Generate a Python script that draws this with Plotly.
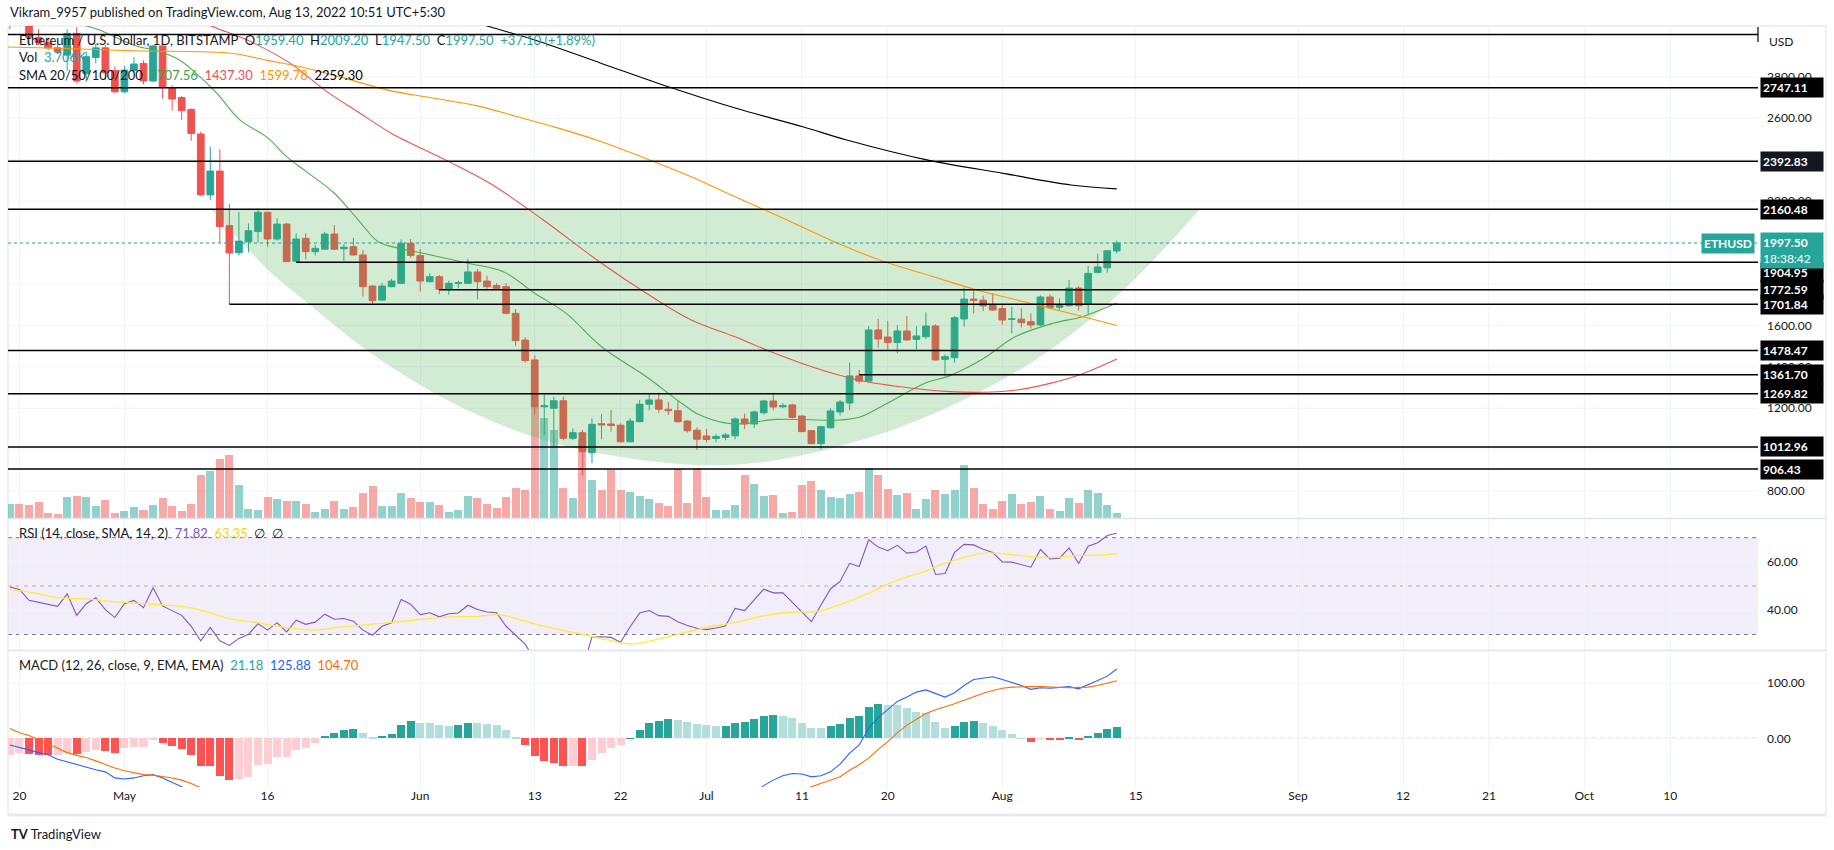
import plotly.graph_objects as go

# ---------------- layout helpers (pixels of the 1834x850 page) ----------------
FIG_W, FIG_H = 1834, 850
PL, PR, PT, PB = 8, 1758, 26, 787


def px(x):
    return (x - PL) / (PR - PL)


def py(y):
    return (PB - y) / (PB - PT)


# ---------------- data (day index 0 = 2022-04-20) ----------------
days = list(range(-1, 116))

opens = [3062, 3104, 3077, 2990, 2966, 2940, 2905, 3010, 2815, 2894, 2940, 2830, 2728, 2830, 2865, 2780,
         2949, 2748, 2700, 2643, 2524, 2230, 2345, 2082, 1951, 2004, 2053, 2146, 2017, 2089, 1910, 2020,
         1956, 1968, 2041, 1970, 1980, 1940, 1790, 1722, 1787, 1803, 1996, 1937, 1811, 1835, 1774, 1803,
         1803, 1858, 1814, 1792, 1787, 1658, 1529, 1433, 1207, 1200, 1236, 1055, 1082, 985, 1125, 1124,
         1118, 1038, 1135, 1219, 1240, 1195, 1188, 1138, 1094, 1066, 1054, 1059, 1067, 1148, 1124, 1178,
         1235, 1207, 1216, 1162, 1092, 1029, 1106, 1182, 1225, 1356, 1331, 1578, 1544, 1517, 1573, 1532,
         1545, 1597, 1436, 1444, 1631, 1727, 1722, 1698, 1681, 1630, 1630, 1618, 1602, 1737, 1687, 1695,
         1780, 1702, 1855, 1878, 1959.40]
highs = [3130, 3171, 3190, 3030, 2990, 2962, 3030, 3040, 2922, 2960, 2954, 2850, 2853, 2895, 2880, 2954,
         2962, 2760, 2707, 2648, 2535, 2463, 2450, 2186, 2146, 2092, 2165, 2150, 2117, 2095, 2044, 2044,
         1988, 2052, 2085, 1993, 2023, 1964, 1795, 1806, 1825, 2015, 2017, 1969, 1851, 1843, 1816, 1816,
         1922, 1871, 1840, 1803, 1803, 1679, 1542, 1455, 1267, 1255, 1256, 1103, 1095, 1151, 1172, 1191,
         1127, 1151, 1240, 1269, 1275, 1232, 1236, 1143, 1107, 1100, 1075, 1080, 1155, 1175, 1190, 1240,
         1275, 1225, 1222, 1167, 1094, 1115, 1200, 1240, 1421, 1385, 1597, 1631, 1621, 1602, 1645, 1597,
         1663, 1605, 1460, 1645, 1782, 1768, 1744, 1755, 1702, 1690, 1682, 1658, 1745, 1750, 1730, 1819,
         1790, 1887, 1945, 1964, 2009.20]
lows = [3030, 3046, 2950, 2955, 2930, 2910, 2830, 2770, 2777, 2865, 2785, 2722, 2722, 2820, 2764, 2776,
        2695, 2637, 2592, 2492, 2226, 2205, 1998, 1701.84, 1937, 1952, 2001, 1980, 2009, 1905, 1905, 1919,
        1937, 1964, 1964, 1912, 1937, 1739, 1698, 1719, 1784, 1800, 1927, 1763, 1808, 1751, 1747, 1779,
        1800, 1726, 1768, 1771, 1653, 1500, 1420, 1170, 1070, 1010, 1046, 1046, 877, 934, 1050, 1087,
        1035, 1035, 1132, 1191, 1178, 1167, 1130, 1083, 998, 1035, 1035, 1045, 1050, 1100, 1105, 1170,
        1190, 1200, 1150, 1085, 1027, 1002, 1100, 1165, 1190, 1320, 1325, 1492, 1478, 1465, 1525, 1485,
        1535, 1430, 1355, 1420, 1594, 1658, 1670, 1670, 1602, 1562, 1590, 1585, 1597, 1685, 1675, 1690,
        1671, 1655, 1850, 1855, 1947.50]
closes = [3104, 3077, 2990, 2966, 2940, 2922, 3010, 2780, 2897, 2940, 2820, 2728, 2833, 2862, 2780, 2949,
          2748, 2693, 2637, 2527, 2230, 2345, 2077, 1950, 2007, 2057, 2146, 2017, 2089, 1908, 2017, 1956,
          1972, 2041, 1968, 1977, 1940, 1787, 1719, 1790, 1814, 1996, 1937, 1814, 1835, 1774, 1803, 1806,
          1858, 1811, 1787, 1779, 1658, 1526, 1430, 1207, 1212, 1236, 1055, 1082, 990, 1122, 1120, 1117,
          1038, 1138, 1219, 1240, 1195, 1188, 1135, 1091, 1050, 1049, 1063, 1071, 1148, 1124, 1182, 1235,
          1206, 1212, 1156, 1087, 1029, 1111, 1187, 1230, 1356, 1331, 1578, 1534, 1517, 1573, 1530, 1549,
          1597, 1433, 1449, 1637, 1727, 1721, 1694, 1674, 1626, 1631, 1613, 1602, 1737, 1686, 1698, 1780,
          1695, 1851, 1882, 1960.40, 1997.50]
volumes_k = [10.6, 10.6, 9.6, 11.8, 3.7, 3.0, 15.5, 16.3, 15.5, 8.9,
             13.3, 3.7, 5.2, 8.1, 5.9, 9.6, 14.8, 8.9, 5.2, 10.4,
             31.8, 34.8, 43.7, 46.6, 24.4, 6.7, 5.9, 15.5, 14.1, 12.6,
             12.6, 10.4, 4.4, 6.7, 12.6, 6.7, 8.1, 18.5, 23.7, 8.9,
             8.9, 18.5, 14.8, 11.8, 11.8, 9.6, 4.4, 5.9, 16.3, 14.8,
             10.4, 7.4, 15.5, 22.2, 20.7, 82.9, 74.0, 65.1, 22.2, 14.8,
             57.7, 28.1, 20.7, 35.5, 20.7, 19.2, 16.3, 14.1, 11.1, 8.9,
             36.3, 11.1, 37.0, 15.5, 5.9, 5.9, 9.6, 31.8, 25.2, 16.3,
             17.0, 3.7, 4.4, 24.4, 27.4, 20.7, 15.5, 14.8, 17.8, 19.2,
             37.0, 31.8, 21.5, 17.0, 18.5, 6.7, 14.1, 20.7, 17.8, 20.7,
             39.2, 22.2, 10.4, 6.7, 12.6, 17.8, 10.4, 11.8, 16.3, 6.7,
             5.2, 14.8, 11.1, 20.7, 18.5, 9.6, 3.706]

sma20_days = [-1.5, 3, 6.7, 8.4, 11.9, 14.7, 16.8, 18.9, 20.7, 23.1, 25.9, 28, 30, 33, 35.5, 37.6, 40,
              42.3, 47, 50.7, 54, 57.3, 61, 65.7, 69.4, 71.3, 74.8, 79.3, 85.9, 88, 90.8, 95, 97.4,
              100.9, 104.4, 108.3, 111.4, 115]
sma20_vals = [3110, 3080, 3050, 3026, 2954, 2922, 2880, 2801, 2720, 2592, 2510, 2415, 2345, 2238, 2110,
              2004, 1970, 1948, 1900, 1859, 1755, 1658, 1497, 1352, 1224, 1167, 1124, 1146, 1143, 1156,
              1220, 1323, 1355, 1436, 1546, 1610, 1642, 1707.56]
sma50_days = [17, 20.3, 24, 28.4, 32, 35.5, 39, 44.7, 49.3, 54.9, 61, 65.7, 70.4, 75, 78.3, 81.8, 85.3,
              88.8, 92.3, 97.5, 101, 104.5, 108, 111.5, 115]
sma50_vals = [3110, 3042, 2975, 2865, 2736, 2630, 2527, 2398, 2286, 2109, 1900, 1755, 1626, 1545, 1481,
              1420, 1368, 1328, 1304, 1280, 1277, 1288, 1320, 1368, 1437.30]
sma100_days = [-2, 5, 12, 19, 22.4, 25.9, 29.4, 34, 38.6, 43, 48, 52, 56.3, 61, 65.7, 70.4, 75, 79.7,
               85.4, 90.6, 95.8, 100.3, 104.5, 108, 111.5, 115]
sma100_vals = [2945, 2937, 2926, 2921, 2913, 2881, 2849, 2795, 2736, 2700, 2660, 2610, 2555, 2487, 2405,
               2318, 2221, 2125, 2004, 1908, 1835, 1771, 1723, 1682, 1642, 1599.78]
sma200_days = [46, 49.3, 54, 61, 68, 75.1, 82.1, 86.7, 95.2, 103.1, 110.2, 115]
sma200_vals = [3090, 3042, 2978, 2865, 2752, 2648, 2559, 2495, 2398, 2334, 2278, 2259.30]

cup_days = [20.1, 22.5, 26, 30, 36.7, 45, 54, 63, 72, 78, 84.4, 92.3, 100.4, 107.7, 115.7, 123.7]
cup_prices = [2160.48, 2040, 1870, 1715, 1470, 1235, 1060, 965, 925, 940, 998, 1109, 1273, 1471, 1771,
              2160.48]

levels = [3005, 2747.11, 2392.83, 2160.48, 1904.95, 1772.59, 1701.84, 1478.47, 1361.70, 1269.82,
          1012.96, 906.43]
level_start = [None, None, None, None, 29, 44, 22, None, 88, None, None, None]
level_labeled = [False, True, True, True, True, True, True, True, True, True, True, True]

rsi_vals = [49.6, 48.6, 44.1, 43.2, 42.2, 41.6, 46.8, 37.9, 42.7, 45.2, 40.3,
            37.0, 42.7, 44.1, 41.1, 49.3, 41.8, 39.7, 37.9, 33.4, 27.4,
            32.9, 27.4, 25.5, 28.4, 30.1, 34.5, 31.8, 34.9, 31.1, 35.9,
            34.2, 35.1, 38.4, 36.3, 36.6, 35.5, 31.8, 29.7, 33.4, 34.8,
            44.5, 42.5, 38.2, 39.0, 37.3, 38.6, 38.9, 42.1, 40.3, 39.3,
            39.0, 33.4, 29.7, 26.0, 19.5, 19.8, 20.5, 16.5, 17.5, 15.5,
            29.0, 29.1, 28.8, 26.8, 33.2, 38.9, 39.9, 37.8, 37.5, 35.3,
            33.7, 32.6, 32.0, 32.7, 33.5, 40.8, 39.9, 44.3, 48.7, 47.2,
            47.2, 43.3, 39.2, 35.3, 42.2, 48.8, 51.9, 59.4, 58.1, 69.1,
            66.1, 64.6, 66.8, 63.6, 64.1, 66.5, 54.8, 55.2, 63.9, 67.2,
            67.0, 65.2, 63.9, 60.0, 59.9, 58.9, 57.8, 65.1, 61.2, 61.5,
            65.8, 59.3, 66.5, 67.9, 70.9, 71.82]
rsi_ma_days = [-1, 1.7, 3.8, 6.8, 10.4, 13.9, 17, 19.1, 22, 24.9, 27.8, 30.9, 33.2, 35.7, 38.6, 41.9, 45.2,
               48.1, 50.1, 51.8, 53.9, 56.8, 59.7, 61, 62, 63.1, 64.2, 65.7, 68.4, 72.1, 75.1, 78.1, 80.7,
               83.7, 86, 89, 90.8, 93.1, 94.6, 96.8, 99.1, 101.3, 103.2, 105.8, 108.8, 110.7, 113.3, 115]
rsi_ma_vals = [48.5, 47.1, 45.2, 44.7, 43.4, 42.5, 41.6, 40.0, 36.6, 34.9, 32.9, 31.8, 32.9, 33.8, 34.8,
               36.2, 37.3, 37.5, 38.2, 36.9, 34.5, 31.8, 29.5, 28.2, 27.5, 26.4, 26.1, 27.0, 29.5, 33.0,
               35.0, 37.8, 39.2, 39.6, 42.3, 47.0, 50.5, 53.9, 55.7, 59.2, 61.9, 63.7, 63.3, 62.2, 61.9,
               62.6, 62.9, 63.35]

macd_hist = [-30, -26, -28, -30, -31, -30, -27, -28, -24, -21, -23,
             -27, -17, -16.5, -16, -3, -8, -14, -19, -30, -50,
             -51, -68, -75, -74, -70, -48, -47, -34, -33.5, -22,
             -18, -8, 4, 9, 15, 17, 9, 3, 4, 8,
             24, 31, 28, 28, 24, 22, 24, 28, 28, 26,
             24, 15, 3, -12, -33, -42, -44, -51, -50, -51,
             -39, -26, -17, -13, 0.5, 15, 28, 32, 35, 33,
             30, 26, 24, 22, 22.5, 28, 30, 35, 41, 42,
             41, 37, 28, 19, 19, 22, 26, 37, 41, 57,
             62, 61, 60.6, 55, 48, 46, 30, 19, 22, 30,
             31.5, 28, 22, 15, 8, 0.3, -6, -1, -3, -3.5,
             2, -2, 4, 10, 17, 21.18]
macd_days_a = list(range(-1, 19))
macd_vals_a = [-12, -16, -21, -26, -30, -38, -43, -47, -52, -57, -61, -72, -74, -72, -68, -66, -72, -80,
               -88, -100]
macd_days_b = list(range(77, 116))
macd_vals_b = [-100, -86, -76, -68, -64, -65, -70, -68, -61, -47, -27, -12, 18, 38, 52, 67, 75, 84, 88,
               82, 75, 83, 96, 107, 110, 112, 107, 102, 96, 89, 92, 91, 92, 94, 90, 97, 105, 113, 125.88]
signal_days_a = list(range(-1, 21))
signal_vals_a = [18, 10, 5, -2, -10, -18, -26, -31, -35, -41, -48, -54, -59, -63, -66, -67, -69, -72,
                 -76, -82, -90, -100]
signal_days_b = list(range(81, 116))
signal_vals_b = [-100, -94, -88, -81, -76, -70, -58, -48, -36, -20, -6, 10, 24, 35, 45, 52, 57, 63, 69,
                 76, 82, 87, 91, 93, 94, 94, 94, 93, 93, 92, 92.5, 93, 96, 100, 104.70]

tick_days = [0, 11, 26, 42, 54, 63, 72, 82, 91, 103, 117, 134, 145, 154, 164, 173]
tick_text = ['20', 'May', '16', 'Jun', '13', '22', 'Jul', '11', '20', 'Aug', '15', 'Sep', '12', '21',
             'Oct', '10']
price_ticks = [800, 1200, 1400, 1600, 2200, 2600, 2800]
price_grid = [800, 1000, 1200, 1400, 1600, 1800, 2000, 2200, 2400, 2600, 2800]

# ---------------- styling ----------------
UP, DOWN = '#26a69a', '#ef5350'
TXT = '#131722'
GRID = '#f0f3fa'
FONT = 'Lato, "Open Sans", sans-serif'

fig = go.Figure()

vol_colors = ['rgba(38,166,154,0.5)' if c >= o else 'rgba(239,83,80,0.5)' for o, c in zip(opens, closes)]
fig.add_trace(go.Bar(x=days, y=volumes_k, width=0.84, marker=dict(color=vol_colors, line=dict(width=0)),
                     xaxis='x', yaxis='y', hoverinfo='skip'))

fig.add_trace(go.Scatter(x=cup_days, y=cup_prices, mode='lines', fill='toself',
                         fillcolor='rgba(76,175,80,0.25)',
                         line=dict(width=0, shape='spline', smoothing=1.0, color='rgba(76,175,80,0)'),
                         xaxis='x', yaxis='y2', hoverinfo='skip'))

fig.add_trace(go.Candlestick(x=days, open=opens, high=highs, low=lows, close=closes,
                             increasing=dict(line=dict(color=UP, width=1), fillcolor=UP),
                             decreasing=dict(line=dict(color=DOWN, width=1), fillcolor=DOWN),
                             whiskerwidth=0, xaxis='x', yaxis='y2', hoverinfo='skip'))

for d, v, col in [(sma20_days, sma20_vals, '#4caf50'), (sma50_days, sma50_vals, '#ef5350'),
                  (sma100_days, sma100_vals, '#ff9800'), (sma200_days, sma200_vals, '#000000')]:
    fig.add_trace(go.Scatter(x=d, y=v, mode='lines', line=dict(color=col, width=1.1, shape='spline'),
                             xaxis='x', yaxis='y2', hoverinfo='skip'))

# RSI
fig.add_trace(go.Scatter(x=days, y=rsi_vals, mode='lines', line=dict(color='#7e57c2', width=1.1),
                         xaxis='x', yaxis='y3', hoverinfo='skip'))
fig.add_trace(go.Scatter(x=rsi_ma_days, y=rsi_ma_vals, mode='lines',
                         line=dict(color='#ffeb3b', width=1.3, shape='spline'),
                         xaxis='x', yaxis='y3', hoverinfo='skip'))

# MACD
hist_colors = []
prev = None
for v in macd_hist:
    rising = prev is None or v > prev
    if v >= 0:
        hist_colors.append('#26a69a' if (prev is not None and v > prev) else '#b2dfdb')
    else:
        hist_colors.append('#ffcdd2' if rising else '#ff5252')
    prev = v
fig.add_trace(go.Bar(x=days, y=macd_hist, width=0.84, marker=dict(color=hist_colors, line=dict(width=0)),
                     xaxis='x', yaxis='y4', hoverinfo='skip'))
fig.add_trace(go.Scatter(x=macd_days_a + [None] + macd_days_b, y=macd_vals_a + [None] + macd_vals_b,
                         mode='lines', line=dict(color='#2962ff', width=1.1), connectgaps=False,
                         xaxis='x', yaxis='y4', hoverinfo='skip'))
fig.add_trace(go.Scatter(x=signal_days_a + [None] + signal_days_b,
                         y=signal_vals_a + [None] + signal_vals_b,
                         mode='lines', line=dict(color='#ff6d00', width=1.1), connectgaps=False,
                         xaxis='x', yaxis='y4', hoverinfo='skip'))

# ---------------- shapes ----------------
shapes = []
# light horizontal price grid (including levels hidden behind the label boxes)
for g in price_grid:
    shapes.append(dict(type='line', xref='paper', x0=0, x1=1, yref='y2', y0=g, y1=g,
                       line=dict(color=GRID, width=1), layer='below'))
for lv, st in zip(levels, level_start):
    if st is None:
        shapes.append(dict(type='line', xref='paper', x0=0, x1=1, yref='y2', y0=lv, y1=lv,
                           line=dict(color='#000000', width=1.5), layer='above'))
    else:
        shapes.append(dict(type='line', xref='x', x0=st, x1=182.2, yref='y2', y0=lv, y1=lv,
                           line=dict(color='#000000', width=1.5), layer='above'))
# small end tick of the top line
shapes.append(dict(type='line', xref='paper', x0=1, x1=1, yref='paper', y0=py(42), y1=py(27),
                   line=dict(color='#000000', width=1.2)))
# last price dotted line
shapes.append(dict(type='line', xref='paper', x0=0, x1=1, yref='y2', y0=closes[-1], y1=closes[-1],
                   line=dict(color=UP, width=1, dash='dot'), layer='above'))
# RSI band + levels
shapes.append(dict(type='rect', xref='paper', x0=0, x1=1, yref='y3', y0=30, y1=70,
                   fillcolor='rgba(126,87,194,0.1)', line=dict(width=0), layer='below'))
for lv, colr in [(70, '#787b86'), (50, 'rgba(120,123,134,0.55)'), (30, '#787b86')]:
    shapes.append(dict(type='line', xref='paper', x0=0, x1=1, yref='y3', y0=lv, y1=lv,
                       line=dict(color=colr, width=1, dash='4px,4px'), layer='below'))
# MACD zero line
shapes.append(dict(type='line', xref='paper', x0=0, x1=1, yref='y4', y0=0, y1=0,
                   line=dict(color='rgba(120,123,134,0.55)', width=1, dash='4px,4px'), layer='below'))
# frame and pane separators
XR = px(1826)
shapes.append(dict(type='rect', xref='paper', x0=0, x1=XR, yref='paper', y0=py(815), y1=py(26),
                   line=dict(color='#e0e3eb', width=1), fillcolor='rgba(0,0,0,0)', layer='below'))
shapes.append(dict(type='line', xref='paper', x0=0, x1=XR, yref='paper', y0=py(815), y1=py(815),
                   line=dict(color='#e8eaf0', width=3)))
for ysep in (518.5, 650.5):
    shapes.append(dict(type='line', xref='paper', x0=0, x1=XR, yref='paper', y0=py(ysep), y1=py(ysep),
                       line=dict(color='#e0e3eb', width=1.5)))

# ---------------- annotations ----------------
def span(t, c):
    return f'<span style="color:{c}">{t}</span>'


chg = closes[-1] - closes[-2]
pct = chg / closes[-2] * 100
sp = '&nbsp;&nbsp;'
leg1 = ('Ethereum / U.S. Dollar, 1D, BITSTAMP' + sp + 'O' + span(f'{opens[-1]:.2f}', UP) + sp + 'H' +
        span(f'{highs[-1]:.2f}', UP) + sp + 'L' + span(f'{lows[-1]:.2f}', UP) + sp + 'C' +
        span(f'{closes[-1]:.2f}', UP) + sp + span(f'{chg:+.2f} ({pct:+.2f}%)', UP))
leg2 = 'Vol' + sp + span(f'{volumes_k[-1]:.3f}K', UP)
leg3 = ('SMA 20/50/100/200' + sp + span(f'{sma20_vals[-1]:.2f}', '#43a047') + sp +
        span(f'{sma50_vals[-1]:.2f}', '#ef5350') + sp + span(f'{sma100_vals[-1]:.2f}', '#ff9800') + sp +
        span(f'{sma200_vals[-1]:.2f}', '#000000'))
leg_rsi = ('RSI (14, close, SMA, 14, 2)' + sp + span(f'{rsi_vals[-1]:.2f}', '#7e57c2') + sp +
           span(f'{rsi_ma_vals[-1]:.2f}', '#f2d31b') + sp + '∅' + sp + '∅')
leg_macd = ('MACD (12, 26, close, 9, EMA, EMA)' + sp + span(f'{macd_hist[-1]:.2f}', UP) + sp +
            span(f'{macd_vals_b[-1]:.2f}', '#2962ff') + sp + span(f'{signal_vals_b[-1]:.2f}', '#ff6d00'))

ann = []


def text_ann(t, x, y, size=13, color=TXT, xanchor='left'):
    ann.append(dict(text=t, xref='paper', yref='paper', x=px(x), y=py(y), xanchor=xanchor,
                    yanchor='middle', showarrow=False, font=dict(size=size, color=color, family=FONT)))


text_ann('Vikram_9957 published on TradingView.com, Aug 13, 2022 10:51 UTC+5:30', 8, 12, size=13)
text_ann(leg1, 17, 40)
text_ann(leg2, 17, 57)
text_ann(leg3, 17, 75)
text_ann(leg_rsi, 17, 533)
text_ann(leg_macd, 17, 665)
text_ann('USD', 1767, 41, size=12)
text_ann('<b>TV</b> TradingView', 9, 834, size=13)

for lv, lab in zip(levels, level_labeled):
    if not lab:
        continue
    ysh = -10 if abs(lv - 1904.95) < 0.01 else 0
    bg = '#131722' if abs(lv - 2392.83) < 0.01 else '#000000'
    ann.append(dict(text=f'<b>{lv:.2f}</b>', xref='paper', x=px(1760), xanchor='left', yref='y2', y=lv,
                    yanchor='middle', yshift=ysh, showarrow=False, bgcolor=bg, borderpad=2,
                    width=58, align='left', font=dict(size=12, color='white', family=FONT)))
ann.append(dict(text=f'<b>{closes[-1]:.2f}</b><br>18:38:42', xref='paper', x=px(1760), xanchor='left',
                yref='y2', y=closes[-1], yanchor='middle', yshift=-7, showarrow=False, bgcolor=UP,
                borderpad=2, width=58, align='left', font=dict(size=12, color='white', family=FONT)))
ann.append(dict(text='<b>ETHUSD</b>', xref='paper', x=px(1755), xanchor='right', yref='y2', y=closes[-1],
                yanchor='middle', showarrow=False, bgcolor=UP, borderpad=2,
                font=dict(size=12, color='white', family=FONT)))

# ---------------- layout ----------------
yaxis_common = dict(showline=False, zeroline=False, ticks='', gridcolor=GRID, gridwidth=1,
                    tickfont=dict(size=12, color=TXT, family=FONT), fixedrange=True)
fig.update_layout(
    width=FIG_W, height=FIG_H, autosize=False,
    margin=dict(l=PL, r=FIG_W - PR, t=PT, b=FIG_H - PB, pad=0),
    paper_bgcolor='white', plot_bgcolor='white', showlegend=False,
    boxgap=0.3, boxgroupgap=0, bargap=0,
    font=dict(family=FONT, size=12, color=TXT),
    xaxis=dict(range=[-1.2, 182.2], tickmode='array', tickvals=tick_days, ticktext=tick_text,
               showgrid=True, gridcolor=GRID, zeroline=False, showline=False, ticks='',
               anchor='y4', rangeslider=dict(visible=False), fixedrange=True,
               tickfont=dict(size=12, color=TXT, family=FONT)),
    yaxis=dict(domain=[py(518), 1], range=[0, 364], visible=False, fixedrange=True),
    yaxis2=dict(overlaying='y', side='right', anchor='x', range=[669.9, 3045.6], tickmode='array',
                tickvals=price_ticks, ticktext=[f'{v:.2f}' for v in price_ticks], showgrid=False,
                ticklabelstandoff=8, **yaxis_common),
    yaxis3=dict(domain=[py(650), py(519)], range=[23.6, 77.7], side='right', anchor='x', tickmode='array',
                tickvals=[40, 60], ticktext=['40.00', '60.00'], showgrid=True, ticklabelstandoff=8,
                **yaxis_common),
    yaxis4=dict(domain=[0, py(651)], range=[-88.5, 158.7], side='right', anchor='x', tickmode='array',
                tickvals=[0, 100], ticktext=['0.00', '100.00'], showgrid=True, ticklabelstandoff=8,
                **yaxis_common),
    shapes=shapes,
    annotations=ann,
)

fig.write_html("out.html", config={'displayModeBar': False},
               post_script="document.body.style.margin='0px';document.body.style.overflow='hidden';")
